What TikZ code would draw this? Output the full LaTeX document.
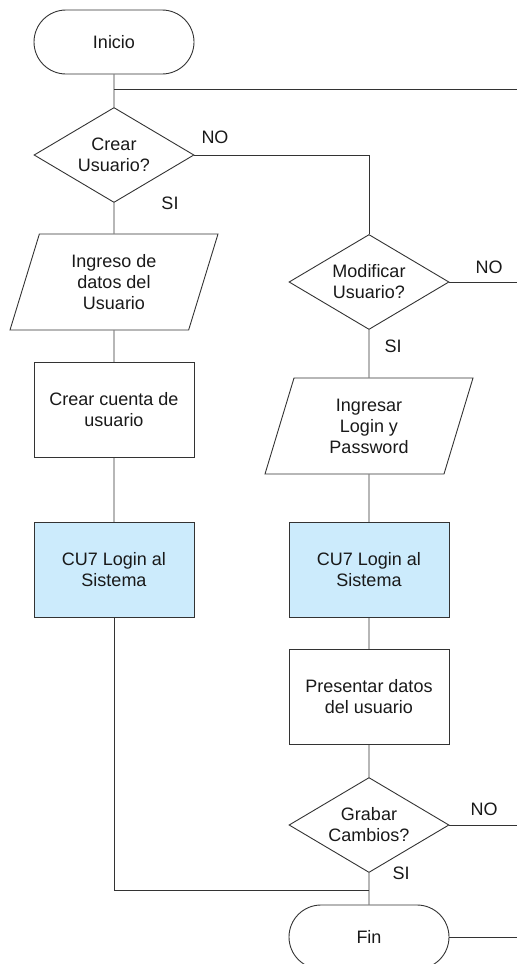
\documentclass[tikz,border=0pt]{standalone}
\usepackage{fontspec}
\setmainfont{Liberation Sans}
\usetikzlibrary{shapes.geometric,shapes.misc}
\definecolor{cuBlue}{RGB}{204,235,252}
\definecolor{lineGray}{RGB}{51,51,51}

\begin{document}
\begin{tikzpicture}[x=1pt,y=-1pt,
    every node/.style={font=\fontsize{18}{21}\selectfont,align=center,text=black!90},
    line/.style={draw=lineGray,line width=0.9pt},
    term/.style={line,rounded rectangle,minimum width=160pt,minimum height=64pt,inner sep=0pt},
    decis/.style={line,diamond,aspect=1.68,minimum width=160pt,minimum height=95pt,inner sep=0pt},
    inout/.style={line,trapezium,trapezium left angle=62,trapezium right angle=118,
        trapezium stretches body,minimum width=208pt,minimum height=96pt,inner sep=0pt},
    proc/.style={line,rectangle,minimum width=160pt,minimum height=95pt,inner sep=0pt},
    cu/.style={proc,fill=cuBlue},
    lbl/.style={inner sep=0pt}]
    \useasboundingbox (0,0) rectangle (517,964);

    \node[term]  (lA) at (114,42)  {Inicio};
    \node[decis] (lB) at (114,155) {Crear\\Usuario?};
    \node[inout] (lC) at (114,282) {Ingreso de\\datos del\\Usuario};
    \node[proc]  (lD) at (114,410) {Crear cuenta de\\usuario};
    \node[cu]    (lE) at (114,570) {CU7 Login al\\Sistema};

    \node[decis] (rA) at (369,282) {Modificar\\Usuario?};
    \node[inout] (rB) at (369,426) {Ingresar\\Login y\\Password};
    \node[cu]    (rC) at (369,570) {CU7 Login al\\Sistema};
    \node[proc]  (rD) at (369,697) {Presentar datos\\del usuario};
    \node[decis] (rE) at (369,825) {Grabar\\Cambios?};
    \node[term]  (rF) at (369,937) {Fin};

    \node[lbl] (nA) at (215,137) {NO};
    \node[lbl] (sA) at (170,203) {SI};
    \node[lbl] (nB) at (489,267) {NO};
    \node[lbl] (sB) at (393,346) {SI};
    \node[lbl] (nC) at (484,809) {NO};
    \node[lbl] (sC) at (401,873) {SI};

    \coordinate (jA) at (114,89);
    \coordinate (eA) at (517,89);
    \coordinate (jB) at (369,890);
    \coordinate (eB) at (517,282);
    \coordinate (eC) at (517,825);
    \coordinate (eD) at (517,937);

    \draw[line] (lA) -- (lB) -- (lC) -- (lD) -- (lE);
    \draw[line] (jA) -- (eA);
    \draw[line] (lB.east) -| (rA.north);
    \draw[line] (lE.south) |- (jB);
    \draw[line] (rA) -- (rB) -- (rC) -- (rD) -- (rE) -- (rF);
    \draw[line] (rA.east) -- (eB);
    \draw[line] (rE.east) -- (eC);
    \draw[line] (rF.east) -- (eD);
\end{tikzpicture}
\end{document}
